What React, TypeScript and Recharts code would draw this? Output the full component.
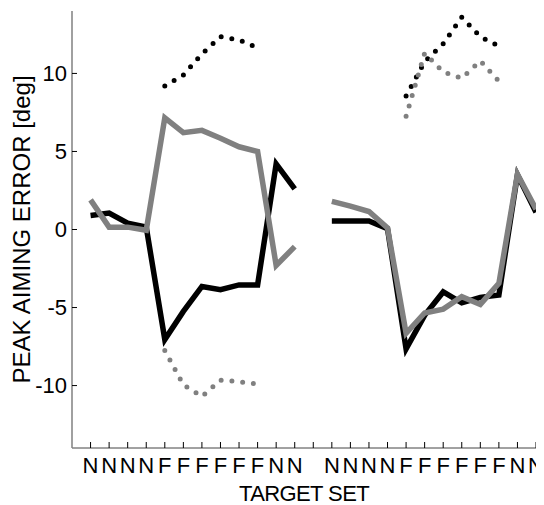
import { LineChart, Line, XAxis, YAxis, Label } from "recharts";

// target set per trial block (12 = gap between the two sessions)
const targetLabels = [
  "N", "N", "N", "N", "F", "F", "F", "F", "F", "F", "N", "N",
  "",
  "N", "N", "N", "N", "F", "F", "F", "F", "F", "F", "N", "N",
];

const yTicks = [-10, -5, 0, 5, 10];

const blackSolid = [
  0.9, 1.05, 0.4, 0.15, -7.05, -5.25, -3.65, -3.85, -3.55, -3.55, 4.2, 2.6,
  null,
  0.55, 0.55, 0.55, 0.05, -7.65, -5.5, -4.0, -4.7, -4.35, -4.2, 3.5, 1.1,
];

const graySolid = [
  1.9, 0.15, 0.15, -0.05, 7.15, 6.2, 6.35, 5.85, 5.3, 5.0, -2.3, -1.1,
  null,
  1.8, 1.5, 1.15, 0.1, -6.65, -5.35, -5.1, -4.3, -4.8, -3.45, 3.55, 1.3,
];

const blackDotted = [
  null, null, null, null, 9.2, 9.9, 11.25, 12.35, 12.15, 11.65, null, null,
  null,
  null, null, null, null, 8.55, 10.75, 11.9, 13.6, 12.35, 11.75, null, null,
];

const grayDotted = [
  null, null, null, null, -7.75, -9.95, -10.7, -9.65, -9.75, -9.9, null, null,
  null,
  null, null, null, null, 7.25, 11.3, 10.1, 9.7, 10.8, 9.5, null, null,
];

const data = targetLabels.map((_, i) => ({
  x: i,
  bs: blackSolid[i],
  gs: graySolid[i],
  bd: blackDotted[i],
  gd: grayDotted[i],
}));

const FONT = "'Liberation Sans', Arial, sans-serif";
const GRAY = "#808080";

export default function App() {
  return (
    <LineChart
      width={536}
      height={497}
      data={data}
      margin={{ top: 3, right: 8, bottom: 0, left: 0 }}
      style={{ fontFamily: FONT }}
    >
      <XAxis
        dataKey="x"
        type="number"
        domain={[-1, 24]}
        ticks={targetLabels.map((_, i) => i)}
        interval={0}
        tickFormatter={(v: number) => targetLabels[v] ?? ""}
        height={57}
        tickSize={-6}
        tickMargin={15}
        axisLine={{ stroke: "#444", strokeWidth: 1 }}
        tickLine={{ stroke: "#000" }}
        tick={{ fill: "#000", fontSize: 22, fontFamily: FONT }}
      >
        <Label
          content={({ viewBox }: any) => (
            <text
              x={viewBox.x + viewBox.width / 2}
              y={viewBox.y + 53}
              textAnchor="middle"
              fontSize={22}
              fontFamily={FONT}
              letterSpacing={-0.6}
              fill="#000"
            >
              TARGET SET
            </text>
          )}
        />
      </XAxis>
      <YAxis
        type="number"
        domain={[-14, 14]}
        ticks={yTicks}
        interval={0}
        allowDataOverflow
        width={64}
        tickSize={-5}
        tickMargin={10}
        axisLine={{ stroke: GRAY, strokeWidth: 1.5 }}
        tickLine={{ stroke: "#000" }}
        tick={{ fill: "#000", fontSize: 22, fontFamily: FONT }}
      >
        <Label
          content={({ viewBox }: any) => {
            const cx = 21.5;
            const cy = viewBox.y + viewBox.height / 2;
            return (
              <text
                x={cx}
                y={cy}
                textAnchor="middle"
                fontSize={24}
                fontFamily={FONT}
                fill="#000"
                transform={`rotate(-90 ${cx} ${cy})`}
              >
                PEAK AIMING ERROR [deg]
              </text>
            );
          }}
        />
      </YAxis>
      <Line
        dataKey="bs"
        stroke="#000"
        strokeWidth={5.5}
        strokeLinejoin="miter"
        dot={false}
        activeDot={false}
        isAnimationActive={false}
      />
      <Line
        dataKey="gs"
        stroke={GRAY}
        strokeWidth={5.5}
        strokeLinejoin="miter"
        dot={false}
        activeDot={false}
        isAnimationActive={false}
      />
      <Line
        dataKey="bd"
        stroke="#000"
        strokeWidth={5}
        strokeDasharray="0 10.8"
        strokeLinecap="round"
        dot={false}
        activeDot={false}
        isAnimationActive={false}
      />
      <Line
        dataKey="gd"
        stroke={GRAY}
        strokeWidth={5}
        strokeDasharray="0 10.8"
        strokeLinecap="round"
        dot={false}
        activeDot={false}
        isAnimationActive={false}
      />
    </LineChart>
  );
}
